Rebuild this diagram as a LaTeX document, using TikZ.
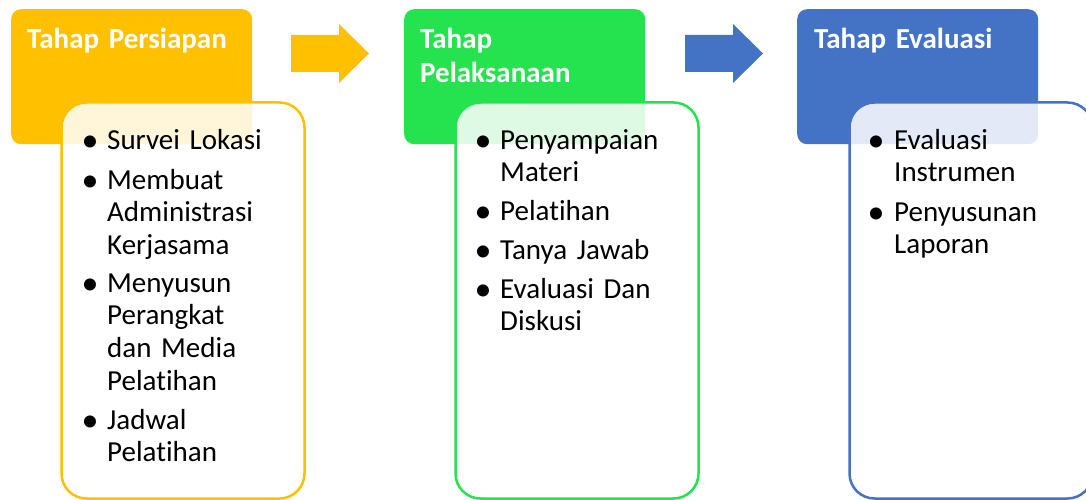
\documentclass[tikz,border=0pt]{standalone}
\usepackage{fontspec}
\setmainfont{Carlito}[Ligatures={NoCommon,NoRequired}]
\definecolor{cY}{RGB}{255,192,0}
\definecolor{cG}{RGB}{37,226,79}
\definecolor{cB}{RGB}{68,114,196}
\begin{document}
\begin{tikzpicture}[x=1pt,y=-1pt,
 header/.style={rounded corners=10pt, minimum width=241pt, minimum height=135pt, anchor=north west, inner sep=0pt},
 body/.style={draw, line width=2.5pt, fill=white, fill opacity=0.85, rounded corners=25pt, minimum width=243pt, minimum height=396pt, anchor=north west, inner sep=0pt},
 title/.style={text=white, font=\fontsize{29}{34}\selectfont\bfseries, anchor=base west, inner sep=0pt, align=left, text width=225pt},
 item/.style={font=\fontsize{29}{32.7}\selectfont, anchor=base west, inner sep=0pt, align=left, text width=190pt},
 bul/.style={font=\fontsize{34}{36}\selectfont, anchor=base, inner sep=0pt, yshift=-2pt}
]
\useasboundingbox (0,0) rectangle (1086,500);

% headers
\node[header, fill=cY] (h1) at (11,9) {};
\node[header, fill=cG] (h2) at (404,9) {};
\node[header, fill=cB] (h3) at (797,9) {};

% titles
\node[title] (t1) at (27,49) {Tahap Persiapan};
\node[title] (t2) at (420,49) {Tahap\\Pelaksanaan};
\node[title] (t3) at (814,49) {Tahap Evaluasi};

% arrows
\fill[cY] (291,35) -- (339,35) -- (339,24) -- (369,53.5) -- (339,83) -- (339,72) -- (291,72) -- cycle;
\fill[cB] (685,35) -- (733,35) -- (733,24) -- (763,53.5) -- (733,83) -- (733,72) -- (685,72) -- cycle;

% bodies
\node[body, draw=cY] (b1) at (60.25,101.25) {};
\node[body, draw=cG] (b2) at (454.25,101.25) {};
\node[body, draw=cB] (b3) at (848.25,101.25) {};

% body 1 items
\node[bul] (p11) at (90,149) {•};
\node[item] (i11) at (107,149) {Survei Lokasi};
\node[bul] (p12) at (90,189) {•};
\node[item] (i12) at (107,189) {Membuat\\Administrasi\\Kerjasama};
\node[bul] (p13) at (90,292) {•};
\node[item] (i13) at (107,292) {Menyusun\\Perangkat\\dan Media\\Pelatihan};
\node[bul] (p14) at (90,429) {•};
\node[item] (i14) at (107,429) {Jadwal\\Pelatihan};

% body 2 items
\node[bul] (p21) at (483,149) {•};
\node[item] (i21) at (500,149) {Penyampaian\\Materi};
\node[bul] (p22) at (483,220) {•};
\node[item] (i22) at (500,220) {Pelatihan};
\node[bul] (p23) at (483,259) {•};
\node[item] (i23) at (500,259) {Tanya Jawab};
\node[bul] (p24) at (483,298) {•};
\node[item] (i24) at (500,298) {Evaluasi Dan\\Diskusi};

% body 3 items
\node[bul] (p31) at (876,149) {•};
\node[item] (i31) at (894,149) {Evaluasi\\Instrumen};
\node[bul] (p32) at (876,221) {•};
\node[item] (i32) at (894,221) {Penyusunan\\Laporan};
\end{tikzpicture}
\end{document}
